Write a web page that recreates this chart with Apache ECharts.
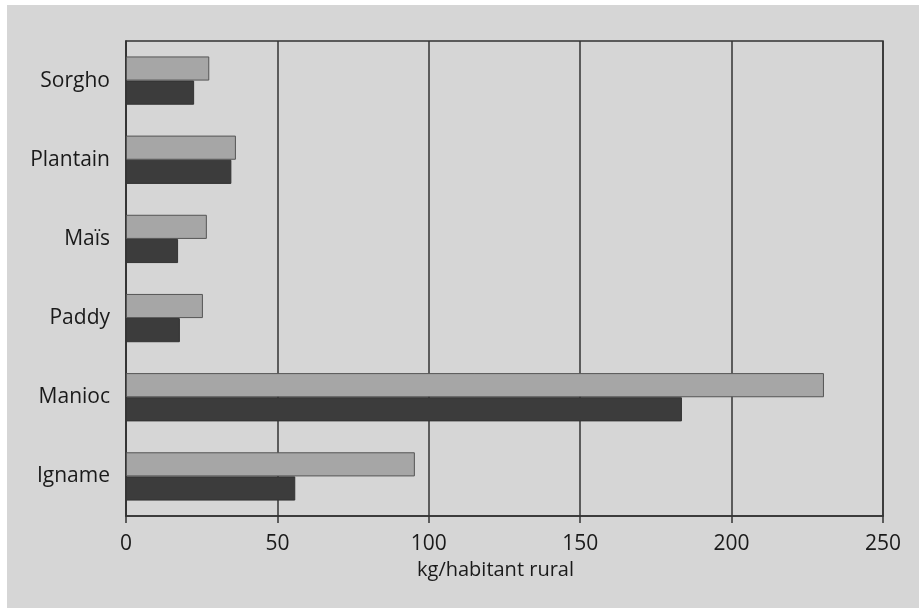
<!DOCTYPE html>
<html><head><meta charset="utf-8">
<script src="https://cdn.jsdelivr.net/npm/echarts@6/dist/echarts.min.js"></script>
<style>html,body{margin:0;padding:0;background:#fff}#c{width:919px;height:608px}</style>
</head><body><div id="c"></div>
<script>
const categories = ['Sorgho','Plantain','Maïs','Paddy','Manioc','Igname'];
const seriesLight = [27.5, 36.3, 26.7, 25.4, 230.5, 95.4];
const seriesDark = [22.5, 34.8, 17.2, 17.8, 183.6, 55.9];
const xTicks = [0, 50, 100, 150, 200, 250];
const xName = 'kg/habitant rural';

const chart = echarts.init(document.getElementById('c'));
chart.setOption({
  animation: false,
  graphic: [{type:'rect', left:7, top:5, shape:{width:912, height:603}, style:{fill:'#d6d6d6'}, z:-10}],
  grid: {left:126, top:41, right:36, bottom:92, show:true, borderColor:'#333', borderWidth:1.5, backgroundColor:'transparent'},
  xAxis: {
    type:'value', min:xTicks[0], max:xTicks[xTicks.length-1], interval:50,
    axisLine:{show:true, lineStyle:{color:'#333', width:1.5}},
    axisTick:{show:true, length:7, lineStyle:{color:'#333', width:1.5}},
    splitLine:{show:true, lineStyle:{color:'#333', width:1.5}},
    axisLabel:{color:'#1a1a1a', fontSize:21, fontFamily:'Open Sans', margin:18},
    name:xName, nameLocation:'middle', nameGap:41,
    nameTextStyle:{color:'#1a1a1a', fontSize:20, fontFamily:'Open Sans', padding:[0,18,0,0]}
  },
  yAxis: {
    type:'category', data:categories, inverse:true,
    axisLine:{show:true, lineStyle:{color:'#333', width:1.5}},
    axisTick:{show:false},
    axisLabel:{color:'#1a1a1a', fontSize:21, fontFamily:'Open Sans', margin:16}
  },
  series: [
    {type:'bar', data:seriesLight, barGap:'0%', barCategoryGap:'39%',
     itemStyle:{color:'#a6a6a6', borderColor:'#555', borderWidth:1}},
    {type:'bar', data:seriesDark, barGap:'0%', barCategoryGap:'39%',
     itemStyle:{color:'#3c3c3c', borderColor:'#333', borderWidth:1}}
  ]
});
</script></body></html>
